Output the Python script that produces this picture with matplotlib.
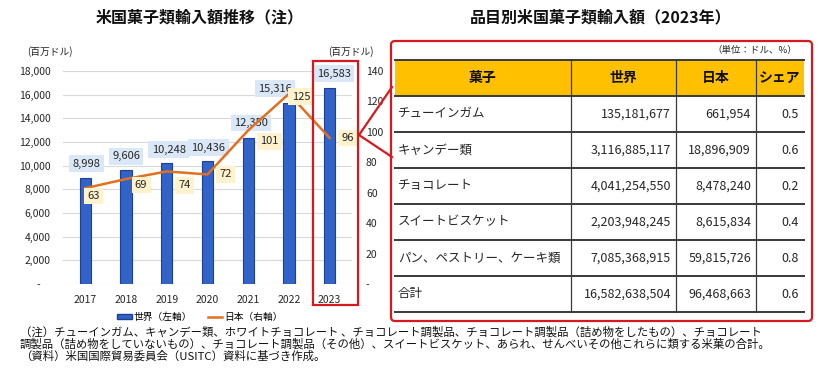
import matplotlib
matplotlib.use("Agg")
import matplotlib.pyplot as plt
from matplotlib.patches import Rectangle, FancyBboxPatch
from matplotlib.lines import Line2D

plt.rcParams["font.family"] = ["Noto Sans CJK JP", "DejaVu Sans"]

# chart data
years = ["2017", "2018", "2019", "2020", "2021", "2022", "2023"]
world = [8998, 9606, 10248, 10436, 12350, 15316, 16583]   # 百万ドル, left axis
japan = [63, 69, 74, 72, 101, 125, 96]                    # 百万ドル, right axis

# table data (2023)
tbl_header = ["菓子", "世界", "日本", "シェア"]
tbl_items = ["チューインガム", "キャンデー類", "チョコレート", "スイートビスケット",
             "パン、ペストリー、ケーキ類", "合計"]
tbl_world = [135181677, 3116885117, 4041254550, 2203948245, 7085368915, 16582638504]
tbl_japan = [661954, 18896909, 8478240, 8615834, 59815726, 96468663]
tbl_share = [0.5, 0.6, 0.2, 0.4, 0.8, 0.6]

notes = [
    "（注）チューインガム、キャンデー類、ホワイトチョコレート 、チョコレート調製品、チョコレート調製品（詰め物をしたもの）、チョコレート",
    "調製品（詰め物をしていないもの）、チョコレート調製品（その他）、スイートビスケット、あられ、せんべいその他これらに類する米菓の合計。",
    "（資料）米国国際貿易委員会（USITC）資料に基づき作成。",
]

# layout, in pixels
W, H = 830, 370
world_label_off = [(1, 14), (0, 14), (2, 13), (1, 13), (3, 15), (-14, 14), (4, 14)]
jp_label_off = [(8, -8), (15, -6), (18, -14), (18, 0), (21, -11), (12, -3), (18, 0)]
col_edges = [395, 571, 676, 756, 804]
tbl_top, row_h = 60, 36

blue, blue_edge = "#3263c9", "#1d3f97"
orange = "#e2701e"
red = "#d7191f"
txt = "#262626"

fig = plt.figure(figsize=(W / 100, H / 100), dpi=100)


def px_axes(l, t, r, b, **kw):
    return fig.add_axes([l / W, 1 - b / H, (r - l) / W, (b - t) / H], **kw)


# ---- left chart
ax = px_axes(63, 71, 352, 284)
x = list(range(len(years)))
ax.bar(x, world, width=0.28, color=blue, edgecolor=blue_edge, linewidth=0.8, zorder=2)
ax.set_xlim(-0.55, 6.55)
ax.set_ylim(0, 18000)
ticks = list(range(0, 18001, 2000))
ax.set_yticks(ticks)
ax.set_yticklabels(["-    "] + [f"{v:,}" for v in ticks[1:]])
ax.set_xticks(x)
ax.set_xticklabels(years)
ax.grid(axis="y", color="#d9d9d9", linewidth=0.8)
ax.set_axisbelow(True)
for s in ax.spines.values():
    s.set_visible(False)
ax.tick_params(length=0, labelsize=7.5, colors=txt)
ax.tick_params(axis="y", pad=9)
ax.tick_params(axis="x", pad=8)

for i, v in enumerate(world):
    ax.annotate(f"{v:,}", (i, v), xytext=world_label_off[i], textcoords="offset pixels",
                ha="center", va="center", fontsize=8, color=txt,
                bbox=dict(boxstyle="square,pad=0.3", fc="#dae7f6", ec="none"))

ax2 = ax.twinx()
ax2.plot(x, japan, color=orange, lw=1.8, zorder=3)
ax2.set_ylim(0, 140)
rticks = list(range(0, 141, 20))
ax2.set_yticks(rticks)
ax2.set_yticklabels(["-"] + [str(v) for v in rticks[1:]])
for s in ax2.spines.values():
    s.set_visible(False)
ax2.tick_params(length=0, labelsize=7.5, colors=txt, pad=10)

for i, v in enumerate(japan):
    ax2.annotate(str(v), (i, v), xytext=jp_label_off[i], textcoords="offset pixels",
                 ha="center", va="center", fontsize=8, color=txt,
                 bbox=dict(boxstyle="square,pad=0.3", fc="#fff2cc", ec="none"))

fig.text(50 / W, 1 - 52 / H, "(百万ドル)", ha="center", va="center", fontsize=7, color=txt)
fig.text(351 / W, 1 - 52 / H, "(百万ドル)", ha="center", va="center", fontsize=7, color=txt)
fig.text(200 / W, 1 - 17 / H, "米国菓子類輸入額推移（注）", ha="center", va="center",
         fontsize=11.5, weight="bold", color="#111111")

handles = [Rectangle((0, 0), 1, 1, fc=blue, ec=blue_edge),
           Line2D([], [], color=orange, lw=1.8)]
fig.legend(handles, ["世界（左軸）", "日本（右軸）"], loc="center",
           bbox_to_anchor=(200 / W, 1 - 317 / H), ncol=2, frameon=False, fontsize=7,
           handlelength=1.5, handleheight=0.5, handletextpad=0.2, columnspacing=1.6)

# ---- right table and decorations, pixel coordinates
deco = fig.add_axes([0, 0, 1, 1], zorder=10)
deco.set_xlim(0, W)
deco.set_ylim(H, 0)
deco.axis("off")

deco.add_patch(Rectangle((313, 61), 45, 244, fill=False, ec=red, lw=1.6))
deco.plot([392, 359, 392], [87, 135, 157], color=red, lw=1.6)
deco.add_patch(FancyBboxPatch((391, 41), 421, 280, boxstyle="round,pad=0,rounding_size=4",
                              fill=False, ec=red, lw=1.6))

fig.text(601 / W, 1 - 17 / H, "品目別米国菓子類輸入額（2023年）", ha="center", va="center",
         fontsize=11.5, weight="bold", color="#111111")
fig.text(797 / W, 1 - 50 / H, "（単位：ドル、%）", ha="right", va="center", fontsize=6.8, color=txt)

n_rows = len(tbl_items) + 1
left, right = col_edges[0], col_edges[-1]
deco.add_patch(Rectangle((left, tbl_top), right - left, row_h, fc="#ffc000", ec="none"))
for k in range(n_rows + 1):
    deco.plot([left, right], [tbl_top + k * row_h] * 2, color="#3a3a3a", lw=1.4)
for xe in col_edges[1:-1]:
    deco.plot([xe, xe], [tbl_top, tbl_top + n_rows * row_h], color="#3a3a3a", lw=0.9)

for j, h in enumerate(tbl_header):
    deco.text((col_edges[j] + col_edges[j + 1]) / 2, tbl_top + row_h / 2, h,
              ha="center", va="center", fontsize=10, weight="bold", color="#111111")

for r in range(len(tbl_items)):
    yc = tbl_top + (r + 1.5) * row_h
    cells = [tbl_items[r], f"{tbl_world[r]:,}", f"{tbl_japan[r]:,}", f"{tbl_share[r]:.1f}"]
    for j, c in enumerate(cells):
        if j == 0:
            deco.text(col_edges[0] + 3, yc, c, ha="left", va="center", fontsize=9, color=txt)
        else:
            deco.text(col_edges[j + 1] - 5, yc, c, ha="right", va="center", fontsize=9, color=txt)

# ---- notes, one block of three lines
fig.text(20 / W, 1 - 344 / H, "\n".join(notes), ha="left", va="center", fontsize=8.2,
         color="#111111", linespacing=1.05)

fig.savefig("out.png", dpi=100)
